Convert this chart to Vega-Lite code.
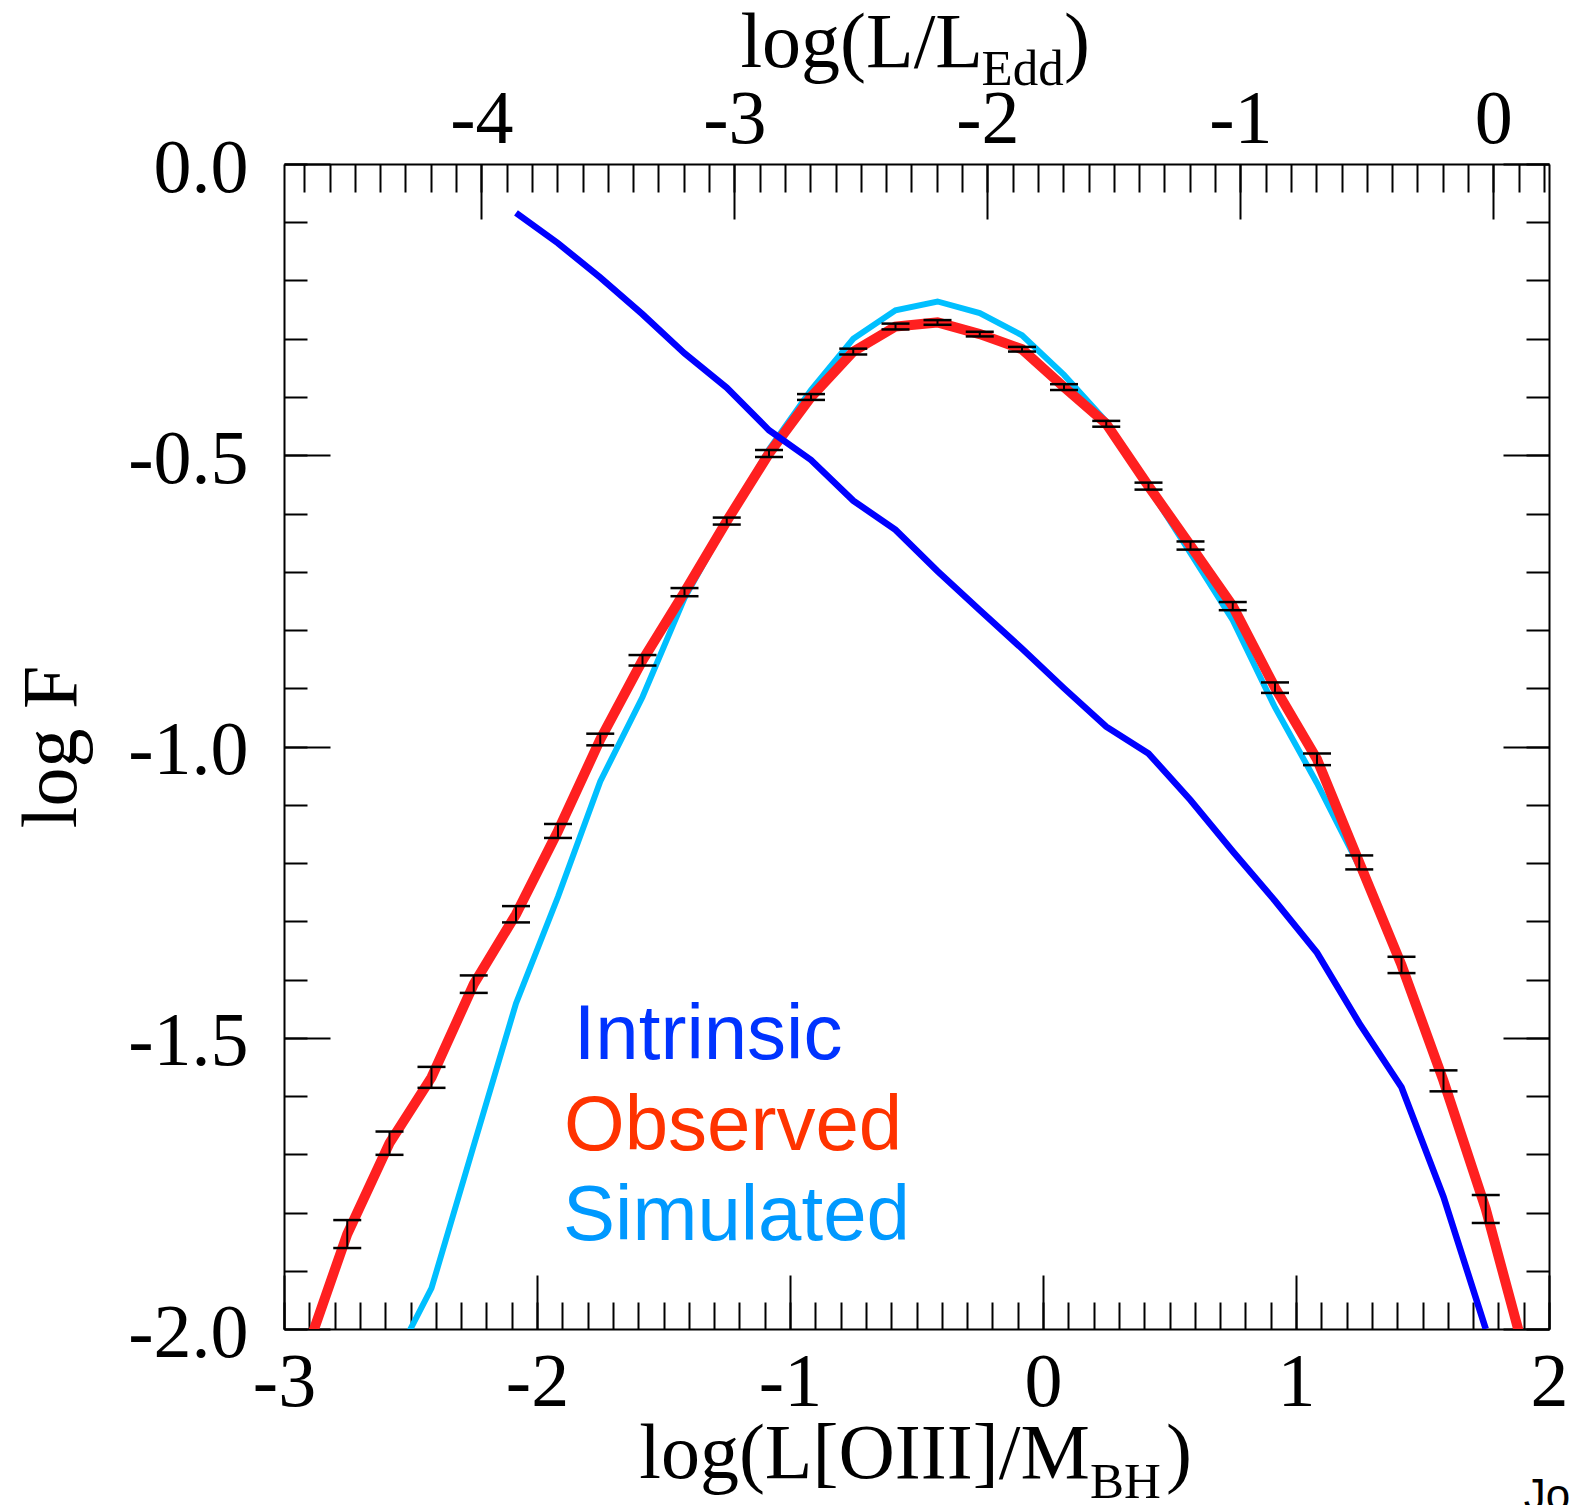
{
  "$schema": "https://vega.github.io/schema/vega-lite/v6.json",
  "width": 1265,
  "height": 1165,
  "autosize": {"type": "none"},
  "padding": {"left": 284, "top": 164, "right": 25, "bottom": 176},
  "background": "white",
  "config": {
    "view": {"stroke": null},
    "axis": {
      "grid": false,
      "domainColor": "black",
      "domainWidth": 2,
      "tickColor": "black",
      "tickWidth": 2,
      "labelFont": "Liberation Serif",
      "labelFontSize": 76,
      "labelColor": "black",
      "labelFlush": false,
      "labelOverlap": false,
      "titleFont": "Liberation Serif",
      "titleFontSize": 78,
      "titleFontWeight": "normal",
      "titleColor": "black"
    }
  },
  "datasets": {
    "frame": [{"x": 0, "y": -1}],
    "obs": [
      {"x": -2.917, "y": -2.045},
      {"x": -2.75, "y": -1.837, "lo": -1.861, "hi": -1.813},
      {"x": -2.583, "y": -1.681, "lo": -1.701, "hi": -1.661},
      {"x": -2.417, "y": -1.568, "lo": -1.586, "hi": -1.55},
      {"x": -2.25, "y": -1.408, "lo": -1.423, "hi": -1.393},
      {"x": -2.083, "y": -1.288, "lo": -1.302, "hi": -1.274},
      {"x": -1.917, "y": -1.145, "lo": -1.157, "hi": -1.133},
      {"x": -1.75, "y": -0.988, "lo": -0.998, "hi": -0.978},
      {"x": -1.583, "y": -0.852, "lo": -0.861, "hi": -0.843},
      {"x": -1.417, "y": -0.735, "lo": -0.742, "hi": -0.728},
      {"x": -1.25, "y": -0.613, "lo": -0.619, "hi": -0.607},
      {"x": -1.083, "y": -0.497, "lo": -0.503, "hi": -0.491},
      {"x": -0.917, "y": -0.4, "lo": -0.405, "hi": -0.395},
      {"x": -0.75, "y": -0.322, "lo": -0.327, "hi": -0.317},
      {"x": -0.583, "y": -0.279, "lo": -0.284, "hi": -0.274},
      {"x": -0.417, "y": -0.272, "lo": -0.276, "hi": -0.268},
      {"x": -0.25, "y": -0.292, "lo": -0.296, "hi": -0.288},
      {"x": -0.083, "y": -0.318, "lo": -0.322, "hi": -0.314},
      {"x": 0.083, "y": -0.383, "lo": -0.388, "hi": -0.378},
      {"x": 0.25, "y": -0.446, "lo": -0.451, "hi": -0.441},
      {"x": 0.417, "y": -0.553, "lo": -0.559, "hi": -0.547},
      {"x": 0.583, "y": -0.655, "lo": -0.662, "hi": -0.648},
      {"x": 0.75, "y": -0.759, "lo": -0.766, "hi": -0.752},
      {"x": 0.917, "y": -0.899, "lo": -0.908, "hi": -0.89},
      {"x": 1.083, "y": -1.022, "lo": -1.032, "hi": -1.012},
      {"x": 1.25, "y": -1.199, "lo": -1.211, "hi": -1.187},
      {"x": 1.417, "y": -1.375, "lo": -1.389, "hi": -1.361},
      {"x": 1.583, "y": -1.574, "lo": -1.592, "hi": -1.556},
      {"x": 1.75, "y": -1.794, "lo": -1.818, "hi": -1.77},
      {"x": 1.917, "y": -2.063}
    ],
    "sim": [
      {"x": -2.583, "y": -2.07},
      {"x": -2.417, "y": -1.93},
      {"x": -2.25, "y": -1.685},
      {"x": -2.083, "y": -1.441},
      {"x": -1.917, "y": -1.258},
      {"x": -1.75, "y": -1.06},
      {"x": -1.583, "y": -0.915},
      {"x": -1.417, "y": -0.745},
      {"x": -1.25, "y": -0.615},
      {"x": -1.083, "y": -0.49},
      {"x": -0.917, "y": -0.388},
      {"x": -0.75, "y": -0.3},
      {"x": -0.583, "y": -0.251},
      {"x": -0.417, "y": -0.236},
      {"x": -0.25, "y": -0.256},
      {"x": -0.083, "y": -0.294},
      {"x": 0.083, "y": -0.362},
      {"x": 0.25, "y": -0.442},
      {"x": 0.417, "y": -0.555},
      {"x": 0.583, "y": -0.668},
      {"x": 0.75, "y": -0.783},
      {"x": 0.917, "y": -0.933},
      {"x": 1.083, "y": -1.063},
      {"x": 1.25, "y": -1.206},
      {"x": 1.417, "y": -1.375},
      {"x": 1.583, "y": -1.574},
      {"x": 1.75, "y": -1.8},
      {"x": 1.917, "y": -2.07}
    ],
    "intr": [
      {"x": -2.083, "y": -0.084},
      {"x": -1.917, "y": -0.136},
      {"x": -1.75, "y": -0.195},
      {"x": -1.583, "y": -0.258},
      {"x": -1.417, "y": -0.325},
      {"x": -1.25, "y": -0.384},
      {"x": -1.083, "y": -0.457},
      {"x": -0.917, "y": -0.508},
      {"x": -0.75, "y": -0.578},
      {"x": -0.583, "y": -0.628},
      {"x": -0.417, "y": -0.699},
      {"x": -0.25, "y": -0.766},
      {"x": -0.083, "y": -0.832},
      {"x": 0.083, "y": -0.9},
      {"x": 0.25, "y": -0.966},
      {"x": 0.417, "y": -1.012},
      {"x": 0.583, "y": -1.092},
      {"x": 0.75, "y": -1.18},
      {"x": 0.917, "y": -1.265},
      {"x": 1.083, "y": -1.354},
      {"x": 1.25, "y": -1.475},
      {"x": 1.417, "y": -1.585},
      {"x": 1.583, "y": -1.773},
      {"x": 1.75, "y": -2.0}
    ],
    "legend": [
      {"x": -1.855, "y": -1.536, "label": "Intrinsic"},
      {"x": -1.893, "y": -1.692, "label": "Observed"},
      {"x": -1.897, "y": -1.847, "label": "Simulated"}
    ],
    "titles": [
      {"x": -1.596, "y": -2.256, "text": "log(L[OIII]/M"},
      {"x": 0.486, "y": -2.256, "text": ")"},
      {"x": -1.196, "y": 0.1665, "text": "log(L/L"},
      {"x": 0.083, "y": 0.1665, "text": ")"}
    ],
    "subs": [
      {"x": 0.186, "y": -2.29, "text": "BH"},
      {"x": -0.243, "y": 0.1356, "text": "Edd"}
    ],
    "corner": [
      {"x": 1.9, "y": -2.31, "text": "Jo"}
    ]
  },
  "layer": [
    {
      "data": {"name": "frame"},
      "mark": {"type": "point", "opacity": 0},
      "encoding": {
        "x": {"field": "x", "type": "quantitative", "scale": {"domain": [-3, 2], "nice": false, "zero": false},
          "axis": {"orient": "bottom", "values": [-3, -2, -1, 0, 1, 2], "ticks": false, "domain": true, "labelPadding": 16, "title": null,
            "labelExpr": "(datum.value < 0 ? '-' : '') + format(abs(datum.value), 'd')"}},
        "y": {"field": "y", "type": "quantitative", "scale": {"domain": [-2, 0], "nice": false, "zero": false},
          "axis": {"orient": "left", "values": [-2, -1.5, -1, -0.5, 0], "ticks": false, "domain": true, "labelPadding": 36, "labelOffset": 4,
            "title": "log F", "titlePadding": 36,
            "labelExpr": "(datum.value < 0 ? '-' : '') + format(abs(datum.value), '.1f')"}}
      }
    },
    {
      "data": {"name": "frame"},
      "mark": {"type": "point", "opacity": 0},
      "encoding": {
        "x": {"field": "x", "type": "quantitative", "scale": {"domain": [-3, 2], "nice": false, "zero": false},
          "axis": {"orient": "top", "offset": -1165, "values": [-3,-2.9,-2.8,-2.7,-2.6,-2.5,-2.4,-2.3,-2.2,-2.1,-2,-1.9,-1.8,-1.7,-1.6,-1.5,-1.4,-1.3,-1.2,-1.1,-1,-0.9,-0.8,-0.7,-0.6,-0.5,-0.4,-0.3,-0.2,-0.1,0,0.1,0.2,0.3,0.4,0.5,0.6,0.7,0.8,0.9,1,1.1,1.2,1.3,1.4,1.5,1.6,1.7,1.8,1.9,2],
            "ticks": true, "tickSize": 27, "labels": false, "domain": false, "title": null}},
        "y": {"field": "y", "type": "quantitative", "scale": {"domain": [-2, 0], "nice": false, "zero": false},
          "axis": {"orient": "right", "offset": -1265, "values": [-2,-1.9,-1.8,-1.7,-1.6,-1.5,-1.4,-1.3,-1.2,-1.1,-1,-0.9,-0.8,-0.7,-0.6,-0.5,-0.4,-0.3,-0.2,-0.1,0],
            "ticks": true, "tickSize": 23, "labels": false, "domain": false, "title": null}}
      }
    },
    {
      "data": {"name": "frame"},
      "mark": {"type": "point", "opacity": 0},
      "encoding": {
        "x": {"field": "x", "type": "quantitative", "scale": {"domain": [-3, 2], "nice": false, "zero": false},
          "axis": {"orient": "top", "offset": -1165, "values": [-3, -2, -1, 0, 1, 2],
            "ticks": true, "tickSize": 54, "labels": false, "domain": false, "title": null}},
        "y": {"field": "y", "type": "quantitative", "scale": {"domain": [-2, 0], "nice": false, "zero": false},
          "axis": {"orient": "right", "offset": -1265, "values": [-2, -1.5, -1, -0.5, 0],
            "ticks": true, "tickSize": 46, "labels": false, "domain": false, "title": null}}
      }
    },
    {
      "data": {"name": "frame"},
      "mark": {"type": "point", "opacity": 0},
      "encoding": {
        "x": {"field": "x", "type": "quantitative", "scale": {"domain": [-3, 2], "nice": false, "zero": false},
          "axis": {"orient": "top", "values": [-2.22, -1.22, -0.22, 0.78, 1.78], "ticks": false, "domain": true, "labelPadding": 6, "title": null,
            "labelExpr": "(datum.value - 1.78 < -0.5 ? '-' : '') + format(abs(round(datum.value - 1.78)), 'd')"}},
        "y": {"field": "y", "type": "quantitative", "scale": {"domain": [-2, 0], "nice": false, "zero": false},
          "axis": {"orient": "right", "ticks": false, "labels": false, "domain": true, "title": null}}
      }
    },
    {
      "data": {"name": "frame"},
      "mark": {"type": "point", "opacity": 0},
      "encoding": {
        "x": {"field": "x", "type": "quantitative", "scale": {"domain": [-3, 2], "nice": false, "zero": false},
          "axis": {"orient": "bottom", "offset": -1165, "values": [-2.92,-2.82,-2.72,-2.62,-2.52,-2.42,-2.32,-2.22,-2.12,-2.02,-1.92,-1.82,-1.72,-1.62,-1.52,-1.42,-1.32,-1.22,-1.12,-1.02,-0.92,-0.82,-0.72,-0.62,-0.52,-0.42,-0.32,-0.22,-0.12,-0.02,0.08,0.18,0.28,0.38,0.48,0.58,0.68,0.78,0.88,0.98,1.08,1.18,1.28,1.38,1.48,1.58,1.68,1.78,1.88,1.98],
            "ticks": true, "tickSize": 28, "labels": false, "domain": false, "title": null}},
        "y": {"field": "y", "type": "quantitative", "scale": {"domain": [-2, 0], "nice": false, "zero": false},
          "axis": {"orient": "left", "offset": -1265, "values": [-2,-1.9,-1.8,-1.7,-1.6,-1.5,-1.4,-1.3,-1.2,-1.1,-1,-0.9,-0.8,-0.7,-0.6,-0.5,-0.4,-0.3,-0.2,-0.1,0],
            "ticks": true, "tickSize": 23, "labels": false, "domain": false, "title": null}}
      }
    },
    {
      "data": {"name": "frame"},
      "mark": {"type": "point", "opacity": 0},
      "encoding": {
        "x": {"field": "x", "type": "quantitative", "scale": {"domain": [-3, 2], "nice": false, "zero": false},
          "axis": {"orient": "bottom", "offset": -1165, "values": [-2.22, -1.22, -0.22, 0.78, 1.78],
            "ticks": true, "tickSize": 55, "labels": false, "domain": false, "title": null}},
        "y": {"field": "y", "type": "quantitative", "scale": {"domain": [-2, 0], "nice": false, "zero": false},
          "axis": {"orient": "left", "offset": -1265, "values": [-2, -1.5, -1, -0.5, 0],
            "ticks": true, "tickSize": 46, "labels": false, "domain": false, "title": null}}
      }
    },
    {
      "data": {"name": "sim"},
      "mark": {"type": "line", "color": "#00bfff", "strokeWidth": 6, "clip": true},
      "encoding": {
        "x": {"field": "x", "type": "quantitative", "scale": {"domain": [-3, 2], "nice": false, "zero": false}, "axis": null},
        "y": {"field": "y", "type": "quantitative", "scale": {"domain": [-2, 0], "nice": false, "zero": false}, "axis": null}
      }
    },
    {
      "data": {"name": "obs"},
      "mark": {"type": "line", "color": "#ff2020", "strokeWidth": 10, "clip": true},
      "encoding": {
        "x": {"field": "x", "type": "quantitative", "scale": {"domain": [-3, 2], "nice": false, "zero": false}, "axis": null},
        "y": {"field": "y", "type": "quantitative", "scale": {"domain": [-2, 0], "nice": false, "zero": false}, "axis": null}
      }
    },
    {
      "data": {"name": "obs"},
      "transform": [{"filter": "isValid(datum.lo)"}],
      "mark": {"type": "rule", "color": "black", "strokeWidth": 2, "clip": true},
      "encoding": {
        "x": {"field": "x", "type": "quantitative", "scale": {"domain": [-3, 2], "nice": false, "zero": false}, "axis": null},
        "y": {"field": "lo", "type": "quantitative", "scale": {"domain": [-2, 0], "nice": false, "zero": false}, "axis": null},
        "y2": {"field": "hi"}
      }
    },
    {
      "data": {"name": "obs"},
      "transform": [{"filter": "isValid(datum.lo)"}],
      "mark": {"type": "tick", "orient": "horizontal", "size": 28, "thickness": 2.5, "color": "black", "opacity": 1, "clip": true},
      "encoding": {
        "x": {"field": "x", "type": "quantitative", "scale": {"domain": [-3, 2], "nice": false, "zero": false}, "axis": null},
        "y": {"field": "lo", "type": "quantitative", "scale": {"domain": [-2, 0], "nice": false, "zero": false}, "axis": null}
      }
    },
    {
      "data": {"name": "obs"},
      "transform": [{"filter": "isValid(datum.hi)"}],
      "mark": {"type": "tick", "orient": "horizontal", "size": 28, "thickness": 2.5, "color": "black", "opacity": 1, "clip": true},
      "encoding": {
        "x": {"field": "x", "type": "quantitative", "scale": {"domain": [-3, 2], "nice": false, "zero": false}, "axis": null},
        "y": {"field": "hi", "type": "quantitative", "scale": {"domain": [-2, 0], "nice": false, "zero": false}, "axis": null}
      }
    },
    {
      "data": {"name": "intr"},
      "mark": {"type": "line", "color": "#0000ff", "strokeWidth": 6.5, "clip": true},
      "encoding": {
        "x": {"field": "x", "type": "quantitative", "scale": {"domain": [-3, 2], "nice": false, "zero": false}, "axis": null},
        "y": {"field": "y", "type": "quantitative", "scale": {"domain": [-2, 0], "nice": false, "zero": false}, "axis": null}
      }
    },
    {
      "data": {"name": "legend"},
      "mark": {"type": "text", "font": "Liberation Sans", "fontSize": 78, "align": "left", "baseline": "alphabetic"},
      "encoding": {
        "x": {"field": "x", "type": "quantitative", "scale": {"domain": [-3, 2], "nice": false, "zero": false}, "axis": null},
        "y": {"field": "y", "type": "quantitative", "scale": {"domain": [-2, 0], "nice": false, "zero": false}, "axis": null},
        "text": {"field": "label"},
        "color": {"field": "label", "type": "nominal", "scale": {"domain": ["Intrinsic", "Observed", "Simulated"], "range": ["#0033ff", "#ff3300", "#0099ff"]}, "legend": null}
      }
    },
    {
      "data": {"name": "titles"},
      "mark": {"type": "text", "font": "Liberation Serif", "fontSize": 78, "align": "left", "baseline": "alphabetic", "color": "black"},
      "encoding": {
        "x": {"field": "x", "type": "quantitative", "scale": {"domain": [-3, 2], "nice": false, "zero": false}, "axis": null},
        "y": {"field": "y", "type": "quantitative", "scale": {"domain": [-2, 0], "nice": false, "zero": false}, "axis": null},
        "text": {"field": "text"}
      }
    },
    {
      "data": {"name": "subs"},
      "mark": {"type": "text", "font": "Liberation Serif", "fontSize": 51, "align": "left", "baseline": "alphabetic", "color": "black"},
      "encoding": {
        "x": {"field": "x", "type": "quantitative", "scale": {"domain": [-3, 2], "nice": false, "zero": false}, "axis": null},
        "y": {"field": "y", "type": "quantitative", "scale": {"domain": [-2, 0], "nice": false, "zero": false}, "axis": null},
        "text": {"field": "text"}
      }
    },
    {
      "data": {"name": "corner"},
      "mark": {"type": "text", "font": "Liberation Sans", "fontSize": 44, "align": "left", "baseline": "alphabetic", "color": "black"},
      "encoding": {
        "x": {"field": "x", "type": "quantitative", "scale": {"domain": [-3, 2], "nice": false, "zero": false}, "axis": null},
        "y": {"field": "y", "type": "quantitative", "scale": {"domain": [-2, 0], "nice": false, "zero": false}, "axis": null},
        "text": {"field": "text"}
      }
    }
  ],
  "resolve": {"axis": {"x": "independent", "y": "independent"}}
}
